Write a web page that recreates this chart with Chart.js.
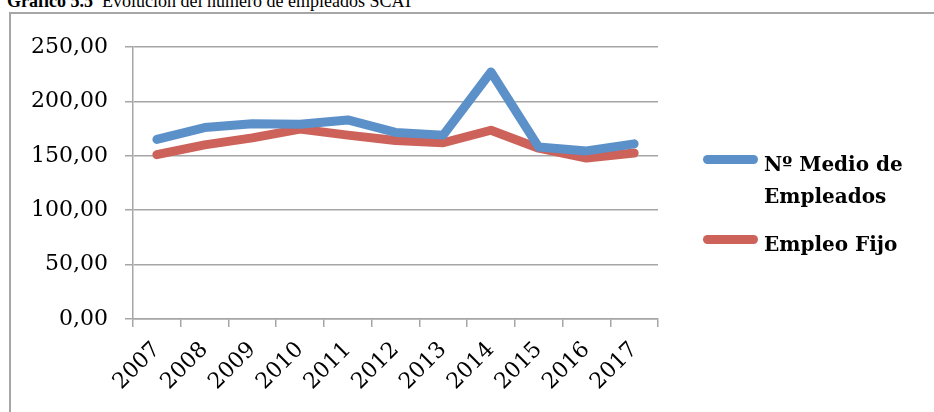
<!DOCTYPE html>
<html>
<head>
<meta charset="utf-8">
<script src="https://cdn.jsdelivr.net/npm/chart.js@4.4.1/dist/chart.umd.min.js"></script>
<style>
  html, body { margin: 0; padding: 0; background: #fff; width: 934px; height: 412px; overflow: hidden; }
  #title { position: absolute; left: 7px; top: -8px; font: 18px/18px "Liberation Serif", serif; white-space: nowrap; color: #000; }
  #title b { font-weight: bold; }
  #frame { position: absolute; left: 9px; top: 12px; width: 1000px; height: 500px; border: 2px solid #a6a6a6; }
  #wrap { position: absolute; left: 0; top: 0; width: 934px; height: 412px; }
  #legend { position: absolute; left: 698px; top: 148px; font: bold 20px/32px "DejaVu Serif", serif; color: #000; }
  .item { position: relative; padding-left: 66px; max-width: 160px; margin-bottom: 16px; }
  .swatch { position: absolute; left: 5px; top: 7px; width: 55px; height: 9px; border-radius: 5px; }
</style>
</head>
<body>
<div id="title"><b>Gráfico 5.5</b>&nbsp; Evolución del número de empleados SCAT</div>
<div id="frame"></div>
<div id="wrap"><canvas id="chart" width="934" height="412"></canvas></div>
<div id="legend"></div>
<script>
  // Datos
  const years = ["2007", "2008", "2009", "2010", "2011", "2012", "2013", "2014", "2015", "2016", "2017"];
  const medioEmpleados = [165, 176, 179.5, 179, 183, 171.5, 169, 227, 158, 154.5, 161];
  const empleoFijo = [151, 160, 166.5, 174.5, 169, 164, 162, 173.5, 157, 148, 152.5];
  const seriesNames = ["Nº Medio de Empleados", "Empleo Fijo"];
  const seriesColors = ["#5b90c9", "#cc6259"];

  const gridColor = "#a6a6a6";
  const tickFont = { family: "DejaVu Serif", size: 22 };

  const makeSet = (label, data, color) => ({
    label: label,
    data: data,
    borderColor: color,
    backgroundColor: color,
    borderWidth: 9,
    borderCapStyle: "round",
    borderJoinStyle: "round",
    pointRadius: 0,
    tension: 0,
    fill: false
  });

  const chart = new Chart(document.getElementById("chart"), {
    type: "line",
    data: {
      labels: years,
      datasets: [
        makeSet(seriesNames[0], medioEmpleados, seriesColors[0]),
        makeSet(seriesNames[1], empleoFijo, seriesColors[1])
      ]
    },
    options: {
      responsive: false,
      animation: false,
      layout: { padding: { top: 47, right: 276, bottom: 0, left: 0 } },
      plugins: { legend: { display: false }, tooltip: { enabled: false } },
      scales: {
        x: {
          offset: true,
          grid: { offset: true, drawOnChartArea: false, tickLength: 8, color: gridColor, lineWidth: 1.5 },
          border: { color: gridColor, width: 1.5 },
          ticks: { minRotation: 45, maxRotation: 45, color: "#000", font: tickFont, padding: 10, autoSkip: false },
          afterFit: (s) => { s.height = 93; }
        },
        y: {
          min: 0,
          max: 250,
          grid: { color: gridColor, lineWidth: 1.5, tickLength: 8 },
          border: { color: gridColor, width: 1.5 },
          ticks: {
            stepSize: 50,
            color: "#000",
            font: tickFont,
            padding: 17,
            callback: (v) => v.toFixed(2).replace(".", ",")
          },
          afterFit: (s) => { s.width = 133; }
        }
      }
    }
  });

  // Leyenda a la derecha
  document.getElementById("legend").innerHTML = chart.data.datasets.map((ds) =>
    `<div class="item"><div class="swatch" style="background:${ds.borderColor}"></div>${ds.label}</div>`
  ).join("");
</script>
</body>
</html>
